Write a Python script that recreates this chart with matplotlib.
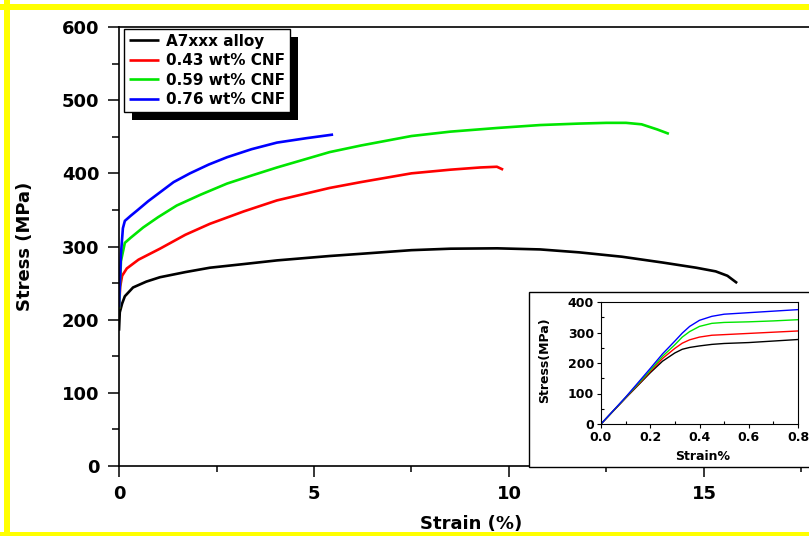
import numpy as np
import matplotlib
matplotlib.use("Agg")
import matplotlib.pyplot as plt
from matplotlib.patches import Rectangle

plt.rcParams['font.family'] = ['DejaVu Sans']
plt.rcParams['font.weight'] = 'bold'

labels = ['A7xxx alloy', '0.43 wt% CNF', '0.59 wt% CNF', '0.76 wt% CNF']
colors = ['black', '#ff0000', '#00e600', '#0000ff']

# main stress-strain curves (strain %, stress MPa)
x_base = [0, 0.02, 0.08, 0.15, 0.36, 0.7, 1.05, 1.7, 2.33, 3.2, 4.05, 5.4, 6.2, 7.5, 8.5,
          9.7, 10.8, 11.8, 12.9, 13.95, 14.8, 15.3, 15.6, 15.85]
y_base = [185, 210, 222, 232, 244, 252, 258, 265, 271, 276, 281, 287, 290, 295, 297,
          297.5, 296, 292, 286, 278, 271, 266, 260, 250]

x_043 = [0, 0.03, 0.08, 0.2, 0.5, 1.05, 1.7, 2.33, 3.2, 4.05, 5.4, 6.2, 7.5, 8.5, 9.26, 9.69, 9.85]
y_043 = [215, 245, 260, 270, 282, 297, 316, 331, 348, 363, 380, 388, 400, 405, 408, 409, 405]

x_059 = [0, 0.05, 0.15, 0.3, 0.62, 1.0, 1.48, 2.1, 2.77, 3.4, 4.05, 5.4, 6.2, 7.5, 8.5,
         9.7, 10.8, 11.8, 12.5, 13.0, 13.4, 13.8, 14.1]
y_059 = [215, 280, 305, 312, 326, 340, 356, 371, 386, 397, 408, 429, 438, 451, 457,
         462, 466, 468, 469, 469, 467, 460, 454]

x_076 = [0, 0.05, 0.1, 0.15, 0.3, 0.46, 0.75, 1.05, 1.4, 1.82, 2.3, 2.77, 3.4, 4.05, 4.8, 5.49]
y_076 = [217, 290, 325, 335, 342, 349, 362, 374, 388, 400, 412, 422, 433, 442, 448, 453]

# inset: elastic region
x_in = [0, 0.1, 0.2, 0.25, 0.3, 0.33, 0.36, 0.4, 0.45, 0.5, 0.6, 0.7, 0.8]
y_in_base = [0, 85, 168, 206, 233, 245, 251, 256, 261, 264, 267, 272, 277]
y_in_043 = [0, 86, 172, 215, 248, 265, 276, 285, 291, 293, 297, 301, 305]
y_in_059 = [0, 87, 176, 222, 260, 285, 303, 320, 330, 333, 335, 338, 342]
y_in_076 = [0, 88, 182, 230, 272, 298, 320, 340, 353, 360, 365, 370, 375]

W, H = 809, 536
fig = plt.figure(figsize=(W / 100, H / 100), dpi=100)

def fx(px):
    return px / W

def fy(py):
    return 1 - py / H

# main axes
ax = fig.add_axes([fx(119), fy(466), (821 - 119) / W, (466 - 27) / H])
for xs, ys, c, lab in zip([x_base, x_043, x_059, x_076], [y_base, y_043, y_059, y_076], colors, labels):
    ax.plot(xs, ys, color=c, lw=1.9, label=lab, solid_capstyle='butt')
ax.set_xlim(0, 18)
ax.set_ylim(0, 600)
ax.set_xticks([0, 5, 10, 15])
ax.set_xticks([2.5, 7.5, 12.5, 17.5], minor=True)
ax.set_yticks(range(0, 601, 100))
ax.set_yticks(range(50, 600, 100), minor=True)
ax.tick_params(axis='both', which='major', direction='out', length=8, width=1.1, labelsize=13, pad=6)
ax.tick_params(axis='y', which='minor', direction='out', length=5, width=1.1)
ax.tick_params(axis='x', which='minor', direction='out', length=4, width=1.1)
for lab in ax.get_xticklabels() + ax.get_yticklabels():
    lab.set_fontweight('bold')
for s in ax.spines.values():
    s.set_linewidth(1.2)
ax.set_xlabel('Strain (%)', fontsize=13, fontweight='bold')
ax.set_ylabel('Stress (MPa)', fontsize=13, fontweight='bold')
ax.xaxis.set_label_coords(fx(471), fy(524), transform=fig.transFigure)
ax.yaxis.set_label_coords(fx(25), fy(246), transform=fig.transFigure)
ax.xaxis.label.set_va('center')
ax.yaxis.label.set_va('center')

leg = ax.legend(loc='upper left', bbox_to_anchor=(fx(124), fy(29)), bbox_transform=fig.transFigure,
                fancybox=False, framealpha=1, edgecolor='black', fontsize=11,
                handlelength=2.0, handletextpad=0.45, labelspacing=0.3, borderpad=0.3,
                borderaxespad=0)
leg.get_frame().set_linewidth(1.0)
for t in leg.get_texts():
    t.set_fontweight('bold')
leg.set_zorder(5)

fig.canvas.draw()
bb = leg.get_window_extent().transformed(fig.transFigure.inverted())
shadow = Rectangle((bb.x0 + 8 / W, bb.y0 - 8 / H), bb.width, bb.height, transform=fig.transFigure,
                   facecolor='black', edgecolor='none', zorder=4)
ax.add_artist(shadow)
shadow.set_clip_on(False)

# inset frame
frame = Rectangle((fx(529), fy(467)), (W + 5 - 529) / W, (467 - 292) / H, transform=fig.transFigure,
                  facecolor='white', edgecolor='black', lw=1.0, zorder=6)
fig.patches.append(frame)

ins = fig.add_axes([fx(601), fy(424), (798 - 601) / W, (424 - 302) / H])
ins.set_zorder(7)
for ys, c in zip([y_in_base, y_in_043, y_in_059, y_in_076], colors):
    ins.plot(x_in, ys, color=c, lw=1.0)
ins.set_xlim(0, 0.8)
ins.set_ylim(0, 400)
ins.set_xticks([0, 0.2, 0.4, 0.6, 0.8])
ins.set_xticks([0.1, 0.3, 0.5, 0.7], minor=True)
ins.set_yticks([0, 100, 200, 300, 400])
ins.set_yticks([50, 150, 250, 350], minor=True)
ins.xaxis.set_major_formatter(matplotlib.ticker.FormatStrFormatter('%.1f'))
ins.tick_params(which='major', direction='out', length=3, width=0.8, labelsize=9, pad=2)
ins.tick_params(which='minor', direction='in', length=2, width=0.8)
for lab in ins.get_xticklabels() + ins.get_yticklabels():
    lab.set_fontweight('bold')
for s in ins.spines.values():
    s.set_linewidth(0.8)
ins.set_xlabel('Strain%', fontsize=9, fontweight='bold')
ins.set_ylabel('Stress(MPa)', fontsize=9, fontweight='bold')
ins.xaxis.set_label_coords(fx(703), fy(457), transform=fig.transFigure)
ins.yaxis.set_label_coords(fx(545), fy(360), transform=fig.transFigure)
ins.xaxis.label.set_va('center')
ins.yaxis.label.set_va('center')

# yellow border
yellow = '#ffff00'
fig.patches.append(Rectangle((0, fy(10)), 1, 6 / H, transform=fig.transFigure, facecolor=yellow, edgecolor='none', zorder=10))
fig.patches.append(Rectangle((fx(4), 0), 6 / W, 1, transform=fig.transFigure, facecolor=yellow, edgecolor='none', zorder=10))
fig.patches.append(Rectangle((0, 0), 1, 4 / H, transform=fig.transFigure, facecolor=yellow, edgecolor='none', zorder=10))

fig.savefig('out.png', dpi=100)
